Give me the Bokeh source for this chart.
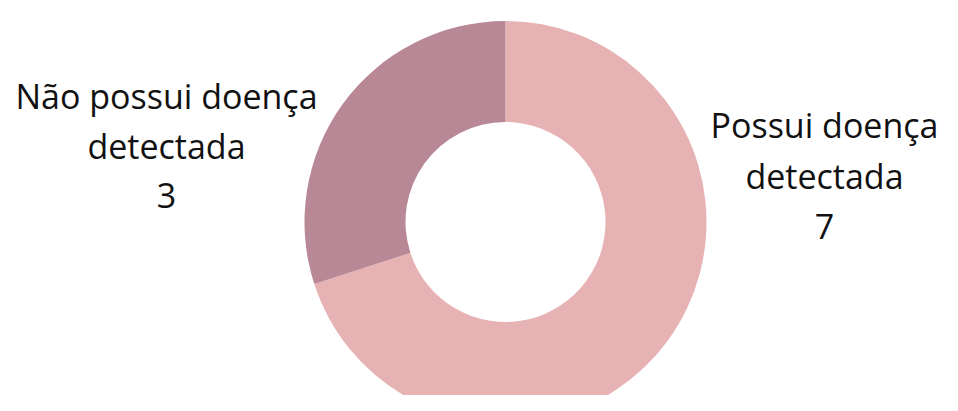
import math
from bokeh.plotting import figure
from bokeh.models import Range1d, ColumnDataSource
from bokeh.core.properties import value
from bokeh.embed import file_html
from bokeh.resources import INLINE

categories = ["Possui doença detectada", "Não possui doença detectada"]
counts = [7, 3]
colors = ["#E7B2B3", "#B98897"]
label_lines = [["Possui doença", "detectada", "7"], ["Não possui doença", "detectada", "3"]]

W, H = 942, 395
p = figure(width=W, height=H, output_backend="svg", toolbar_location=None,
           x_range=Range1d(0, W), y_range=Range1d(0, H), min_border=0)
p.axis.visible = False
p.grid.visible = False
p.outline_line_color = None
p.background_fill_color = "white"
p.border_fill_color = "white"

total = sum(counts)
starts, ends = [], []
a = math.pi / 2
for c in counts:
    e = a - 2 * math.pi * c / total
    starts.append(e)
    ends.append(a)
    a = e

cx, cy = 505, 173.5
src = ColumnDataSource(dict(start=starts, end=ends, color=colors, cat=categories))
p.annular_wedge(x=cx, y=cy, inner_radius=100, outer_radius=201, start_angle="start",
                end_angle="end", fill_color="color", line_color=None, source=src,
                inner_radius_units="data", outer_radius_units="data")

# label layout: (center x, first baseline, line spacing)
layouts = [(824, 271, 51), (166, 300, 50)]
for lines, (lx, ly, dy) in zip(label_lines, layouts):
    ys = [ly - i * dy for i in range(len(lines))]
    p.text(x=[lx] * len(lines), y=ys, text=lines, text_font=value("Open Sans"),
           text_font_size="34px", text_color="#111111", text_align="center",
           text_baseline="alphabetic")

open("out.html", "w").write(file_html(p, INLINE))
